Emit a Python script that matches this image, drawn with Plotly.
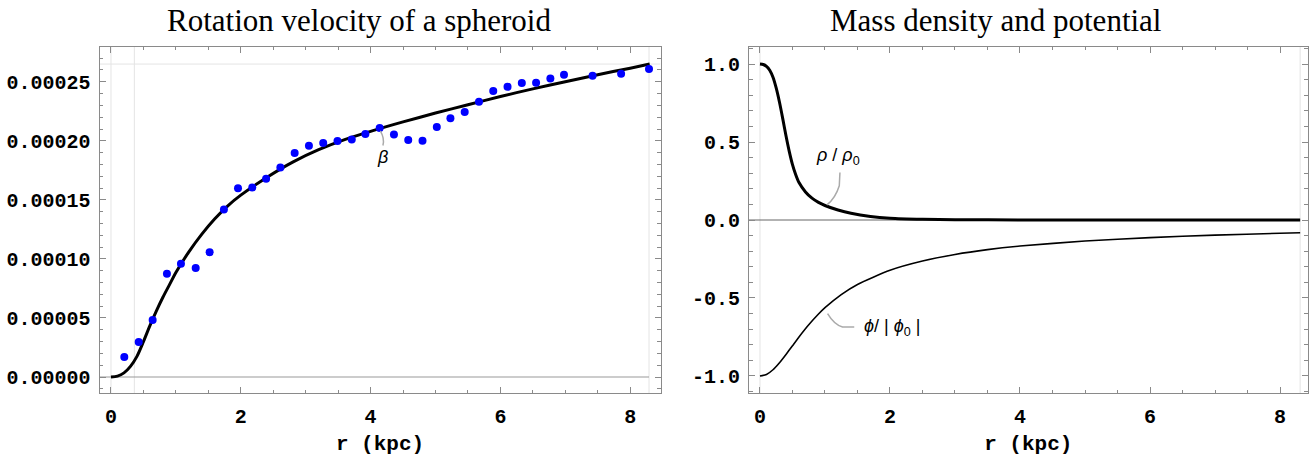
import plotly.graph_objects as go

# Observed rotation data (r in kpc, beta dimensionless)
r_obs = [0.205, 0.427, 0.642, 0.862, 1.078, 1.305, 1.52, 1.74, 1.957, 2.177,
         2.39, 2.61, 2.83, 3.05, 3.27, 3.49, 3.71, 3.92, 4.14, 4.36,
         4.58, 4.80, 5.02, 5.23, 5.45, 5.67, 5.89, 6.11, 6.33, 6.55,
         6.77, 6.98, 7.42, 7.86, 8.29]
beta_obs = [1.70e-5, 2.97e-5, 4.83e-5, 8.75e-5, 9.58e-5, 9.24e-5, 10.57e-5, 14.18e-5, 15.99e-5, 16.04e-5,
            16.78e-5, 17.74e-5, 18.96e-5, 19.58e-5, 19.81e-5, 19.98e-5, 20.11e-5, 20.57e-5, 21.08e-5, 20.53e-5,
            20.06e-5, 20.00e-5, 21.16e-5, 21.92e-5, 22.43e-5, 23.31e-5, 24.21e-5, 24.58e-5, 24.89e-5, 24.92e-5,
            25.28e-5, 25.59e-5, 25.51e-5, 25.68e-5, 26.08e-5]

# Model rotation curve beta(r)
r_model = [0, 0.1, 0.2, 0.3, 0.4, 0.5, 0.6, 0.7, 0.8, 0.9, 1.0, 1.2, 1.4, 1.6, 1.8,
           2.0, 2.4, 2.8, 3.2, 3.6, 4.0, 4.5, 5.0, 5.5, 6.0, 6.5, 7.0, 7.5, 8.0, 8.3]
beta_model = [0, 0.08e-5, 0.35e-5, 0.9e-5, 1.75e-5, 3.0e-5, 4.35e-5, 5.6e-5, 6.75e-5, 7.8e-5,
              8.85e-5, 10.6e-5, 12.1e-5, 13.4e-5, 14.5e-5, 15.4e-5, 16.9e-5, 18.2e-5, 19.25e-5, 20.1e-5,
              20.8e-5, 21.6e-5, 22.35e-5, 23.05e-5, 23.75e-5, 24.4e-5, 25.0e-5, 25.6e-5, 26.15e-5, 26.5e-5]

# Normalised density rho/rho0
r_rho = [0, 0.05, 0.1, 0.15, 0.2, 0.25, 0.3, 0.35, 0.4, 0.45, 0.5, 0.55, 0.6, 0.7, 0.8, 0.9, 1.0,
         1.2, 1.4, 1.7, 2.0, 2.5, 3.0, 4.0, 5.0, 6.0, 7.0, 8.31]
rho = [1.0, 0.997, 0.985, 0.96, 0.915, 0.845, 0.755, 0.65, 0.54, 0.44, 0.355, 0.29, 0.24, 0.18, 0.14, 0.113, 0.093,
       0.064, 0.043, 0.023, 0.012, 0.005, 0.002, 0.0006, 0.0002, 0.0, 0.0, 0.0]

# Normalised potential phi/|phi0|
r_phi = [0, 0.1, 0.2, 0.3, 0.4, 0.5, 0.6, 0.75, 0.9, 1.0, 1.25, 1.5, 2.0, 2.5, 3.0, 3.5, 4.0,
         5.0, 6.0, 7.0, 8.0, 8.31]
phi = [-1.0, -0.99, -0.96, -0.915, -0.862, -0.806, -0.75, -0.672, -0.603, -0.562, -0.478, -0.413,
       -0.322, -0.263, -0.221, -0.19, -0.167, -0.135, -0.113, -0.097, -0.085, -0.082]

beta_ticks = [0, 0.00005, 0.0001, 0.00015, 0.0002, 0.00025]
beta_ticktext = ["0.00000", "0.00005", "0.00010", "0.00015", "0.00020", "0.00025"]
norm_ticks = [-1.0, -0.5, 0.0, 0.5, 1.0]
norm_ticktext = ["-1.0", "-0.5", "0.0", "0.5", "1.0"]

W, H = 1313, 456
FRAME = "#8a8a8a"
FAINT = "#e4e4e4"
MONO = dict(family="Liberation Mono", size=20, color="black", weight="bold")
AXTITLE = dict(family="Liberation Mono", size=21, color="black", weight="bold")

fig = go.Figure()

fig.add_trace(go.Scatter(x=r_model, y=beta_model, mode="lines",
                         line=dict(color="black", width=3, shape="spline", smoothing=0.8),
                         xaxis="x", yaxis="y", showlegend=False, hoverinfo="skip"))
fig.add_trace(go.Scatter(x=r_obs, y=beta_obs, mode="markers", marker=dict(color="#0000ff", size=8),
                         xaxis="x", yaxis="y", showlegend=False))
fig.add_trace(go.Scatter(x=r_rho, y=rho, mode="lines",
                         line=dict(color="black", width=3, shape="spline", smoothing=0.6),
                         xaxis="x2", yaxis="y2", showlegend=False))
fig.add_trace(go.Scatter(x=r_phi, y=phi, mode="lines",
                         line=dict(color="black", width=1.6, shape="spline", smoothing=0.6),
                         xaxis="x2", yaxis="y2", showlegend=False))


def frame_axis(**kw):
    base = dict(showline=True, mirror="allticks", linecolor=FRAME, linewidth=1,
                ticks="inside", tickcolor=FRAME, ticklen=6, tickwidth=1,
                showgrid=False, zeroline=False, tickfont=MONO, layer="above traces")
    base.update(kw)
    return base


y_dom = [1 - 393.3 / H, 1 - 46.7 / H]
fig.update_layout(
    width=W, height=H, margin=dict(l=0, r=0, t=0, b=0),
    paper_bgcolor="white", plot_bgcolor="white",
    xaxis=frame_axis(domain=[99.5 / W, 660.5 / W], range=[-0.177, 8.467], tick0=0, dtick=2,
                     minor=dict(ticks="inside", ticklen=3.5, dtick=0.5, tickcolor=FRAME),
                     ticklabelstandoff=5,
                     title=dict(text="r (kpc)", font=AXTITLE, standoff=8)),
    yaxis=frame_axis(domain=y_dom, range=[-0.0000138, 0.0002797], tickvals=beta_ticks, ticktext=beta_ticktext,
                     minor=dict(ticks="inside", ticklen=3.5, dtick=0.00001, tick0=0, tickcolor=FRAME),
                     ticklabelstandoff=4),
    xaxis2=frame_axis(domain=[749 / W, 1307.5 / W], range=[-0.169, 8.423], tick0=0, dtick=2, anchor="y2",
                      minor=dict(ticks="inside", ticklen=3.5, dtick=0.5, tickcolor=FRAME),
                      ticklabelstandoff=5,
                      title=dict(text="r (kpc)", font=AXTITLE, standoff=8)),
    yaxis2=frame_axis(domain=y_dom, range=[-1.111, 1.111], tickvals=norm_ticks, ticktext=norm_ticktext, anchor="x2",
                      minor=dict(ticks="inside", ticklen=3.5, dtick=0.1, tick0=0, tickcolor=FRAME),
                      ticklabelstandoff=4),
)

shapes = []
# faint reference lines, left panel
for xv in [0, 0.36, 8.29]:
    shapes.append(dict(type="line", xref="x", yref="y", x0=xv, x1=xv, y0=-0.0000138, y1=0.0002797,
                       line=dict(color=FAINT, width=1), layer="below"))
shapes.append(dict(type="line", xref="x", yref="y", x0=-0.177, x1=8.467, y0=0.000265, y1=0.000265,
                   line=dict(color=FAINT, width=1), layer="below"))
shapes.append(dict(type="line", xref="x", yref="y", x0=-0.177, x1=8.29, y0=0, y1=0,
                   line=dict(color="#999999", width=1), layer="below"))
# faint reference lines, right panel
for xv in [0, 8.31]:
    shapes.append(dict(type="line", xref="x2", yref="y2", x0=xv, x1=xv, y0=-1.111, y1=1.111,
                       line=dict(color=FAINT, width=1), layer="below"))
shapes.append(dict(type="line", xref="x2", yref="y2", x0=-0.169, x1=8.31, y0=0, y1=0,
                   line=dict(color="#666666", width=1), layer="below"))

# label leaders
LEAD = dict(color="#aaaaaa", width=1.5)
shapes.append(dict(type="path", xref="x", yref="y", path="M 4.15,0.0002085 Q 4.22,0.0002020 4.19,0.0001960",
                   line=LEAD))
shapes.append(dict(type="path", xref="x2", yref="y2", path="M 1.23,0.305 L 1.22,0.22 Q 1.16,0.14 1.03,0.097",
                   line=LEAD))
shapes.append(dict(type="path", xref="x2", yref="y2", path="M 1.45,-0.686 L 1.27,-0.686 Q 1.14,-0.67 1.04,-0.60",
                   line=LEAD))
fig.update_layout(shapes=shapes)

LBL = dict(family="Liberation Sans", size=18, color="black")
TITLE = dict(family="Liberation Serif", size=31, color="black")
fig.update_layout(annotations=[
    dict(text="Rotation velocity of a spheroid", xref="paper", yref="paper", x=359 / W, y=1 - 20 / H,
         showarrow=False, font=TITLE, xanchor="center", yanchor="middle"),
    dict(text="Mass density and potential", xref="paper", yref="paper", x=996 / W, y=1 - 20 / H,
         showarrow=False, font=TITLE, xanchor="center", yanchor="middle"),
    dict(text="<i>β</i>", xref="x", yref="y", x=4.19, y=0.000186, showarrow=False, font=LBL),
    dict(text="<i>ρ</i> / <i>ρ</i><sub>0</sub>", xref="x2", yref="y2", x=1.2, y=0.405, showarrow=False, font=LBL),
    dict(text="<i>ϕ</i>/ | <i>ϕ</i><sub>0</sub> |", xref="x2", yref="y2", x=2.03, y=-0.69, showarrow=False, font=LBL),
])

fig.write_html("out.html")
